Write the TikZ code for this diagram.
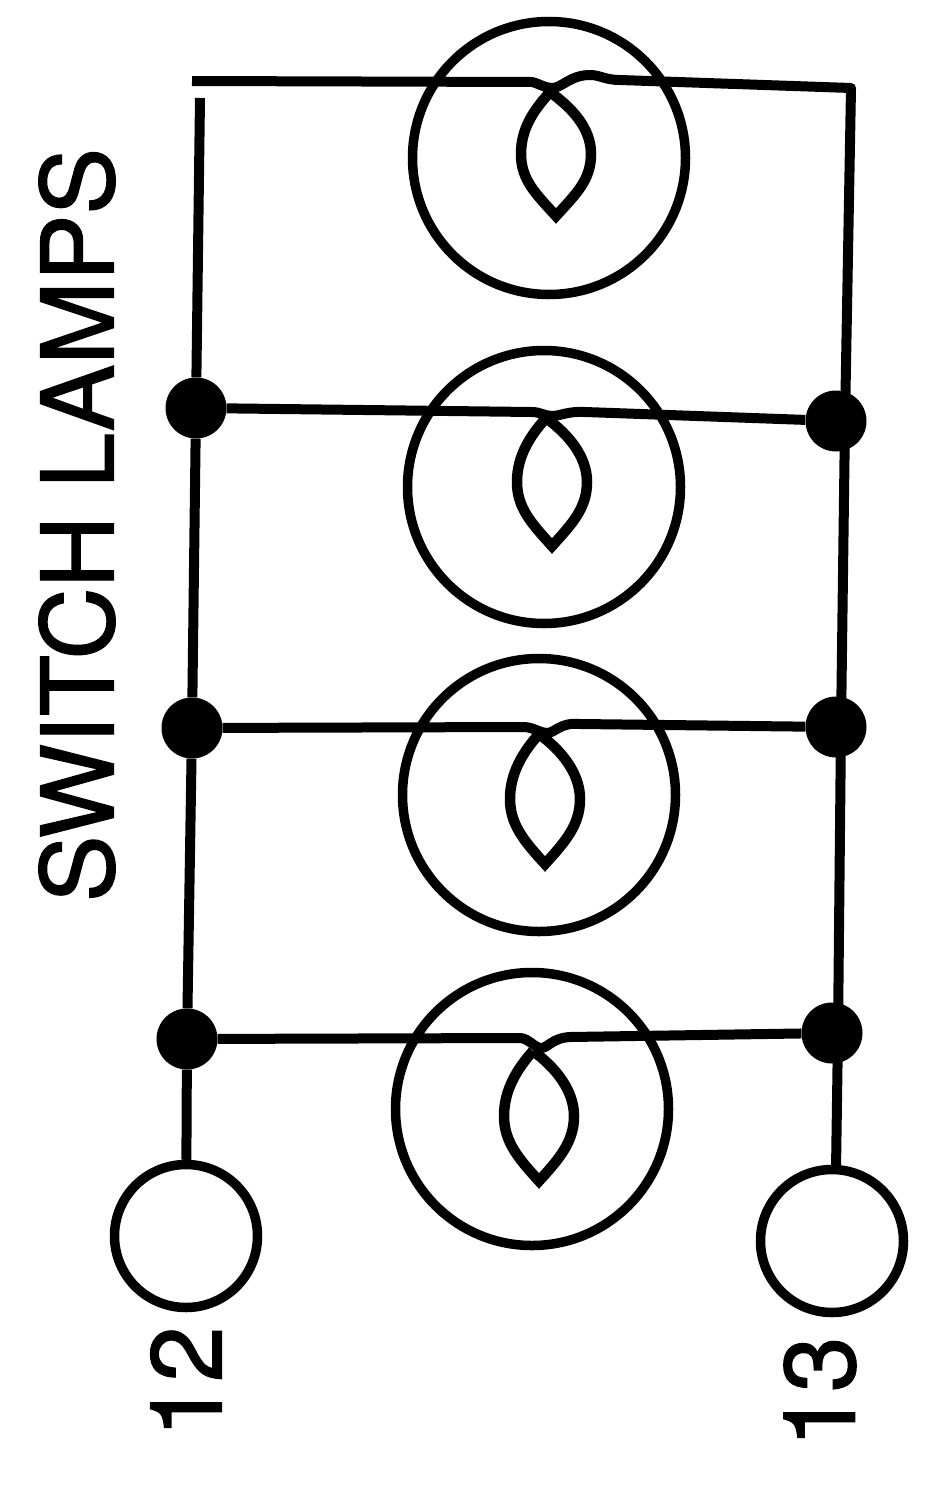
\documentclass[tikz,border=0pt]{standalone}
\usepackage{fontspec}
\setmainfont[AutoFakeBold=1.4]{TeX Gyre Heros}
\tikzset{
  wire/.style={line width=10pt,black,line join=round},
  ring/.style={circle,draw=black,line width=9.5pt,inner sep=0pt,minimum size=#1},
  dotn/.style={circle,fill=black,inner sep=0pt,minimum size=61pt},
  lab/.style={font=\fontsize{100}{100}\selectfont\bfseries,rotate=90,inner sep=0pt},
  fil/.style={line width=10.5pt,black,line join=miter}
}
% #1 tip x, #2 tip y, #3 lens height
\newcommand{\lampfil}[3]{%
  \draw[fil] (#1-6,-#2+#3)
    .. controls (#1-22,-#2+#3-18) and (#1-35,-#2+#3/2+26) .. (#1-35,-#2+#3/2)
    .. controls (#1-35,-#2+#3/2-26) and (#1-20,-#2+22) .. (#1,-#2)
    .. controls (#1+20,-#2+22) and (#1+35,-#2+#3/2-26) .. (#1+35,-#2+#3/2)
    .. controls (#1+35,-#2+#3/2+26) and (#1+16,-#2+#3-16) .. (#1-6,-#2+#3);
}
\begin{document}
\begin{tikzpicture}[x=1pt,y=1pt]
\useasboundingbox (0,0) rectangle (935,-1499);
% lamps
\node[ring=273pt] (l1) at (549,-158) {};
\node[ring=273pt] (l2) at (544,-487) {};
\node[ring=273pt] (l3) at (539,-795) {};
\node[ring=273pt] (l4) at (532,-1109) {};
% junctions
\node[dotn] (a1) at (196,-408) {};
\node[dotn] (a2) at (192,-728) {};
\node[dotn] (a3) at (187,-1039) {};
\node[dotn] (b1) at (836,-421) {};
\node[dotn] (b2) at (836,-727) {};
\node[dotn] (b3) at (832,-1033) {};
% terminals
\node[ring=143pt] (t1) at (186,-1236) {};
\node[ring=143pt] (t2) at (832,-1241) {};
\coordinate (c1) at (192,-81);
\coordinate (c2) at (851,-88);
\coordinate (c3) at (200,-98);
\coordinate (b1r) at (845,-421);
\coordinate (b2r) at (841,-727);
\coordinate (b3r) at (838,-1033);
\coordinate (t2r) at (836,-1170);
% wires
\draw[wire] (c1) -- (532,-82) .. controls (540,-84) and (545,-88) .. (552,-88)
   .. controls (562,-88) and (570,-75) .. (590,-75)
   .. controls (600,-75) and (605,-80) .. (620,-80) -- (c2) -- (b1r);
\draw[wire] (c3) -- (a1);
\draw[wire] (a1) -- (a2);
\draw[wire] (a2) -- (a3);
\draw[wire] (a3) -- (t1);
\draw[wire] (b1r) -- (b2r);
\draw[wire] (b2r) -- (b3r);
\draw[wire] (b3r) -- (t2r);
\draw[wire] (a1) -- (532,-412) .. controls (540,-412) and (545,-416) .. (552,-416)
   .. controls (560,-416) and (568,-411) .. (585,-412) -- (b1);
\draw[wire] (a2) -- (525,-727) .. controls (535,-728) and (540,-733) .. (547,-733)
   .. controls (555,-733) and (560,-722) .. (580,-724) -- (b2);
\draw[wire] (a3) -- (520,-1038) .. controls (528,-1038) and (535,-1048) .. (541,-1048)
   .. controls (548,-1048) and (552,-1038) .. (570,-1037) -- (b3);
% filaments
\lampfil{556}{216}{124}
\lampfil{552}{546}{128}
\lampfil{545}{864}{130}
\lampfil{539}{1181}{130}
% labels
\node[lab] (title) at (77,-525) {SWITCH LAMPS};
\node[lab] (n12) at (186,-1382) {12};
\node[lab] (n13) at (820,-1392) {13};
\end{tikzpicture}
\end{document}
